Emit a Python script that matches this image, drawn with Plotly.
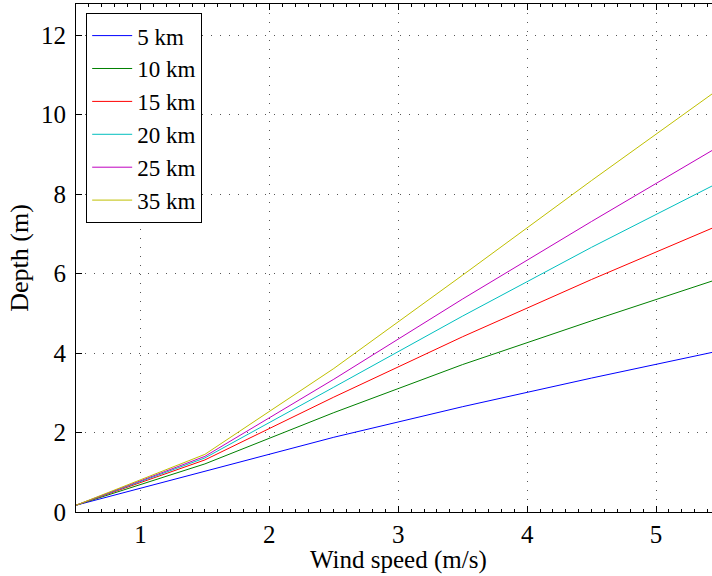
import plotly.graph_objects as go

wind_speed = [0.5, 1.5, 2.5, 3.5, 4.5, 5.5]
depth_5km = [0.17, 1.02, 1.88, 2.65, 3.37, 4.06]
depth_10km = [0.17, 1.21, 2.50, 3.71, 4.81, 5.88]
depth_15km = [0.17, 1.31, 2.89, 4.41, 5.85, 7.23]
depth_20km = [0.17, 1.36, 3.14, 4.93, 6.66, 8.31]
depth_25km = [0.17, 1.40, 3.34, 5.36, 7.31, 9.22]
depth_35km = [0.17, 1.45, 3.61, 5.96, 8.34, 10.67]

series_names = ["5 km", "10 km", "15 km", "20 km", "25 km", "35 km"]
series_values = [depth_5km, depth_10km, depth_15km, depth_20km, depth_25km, depth_35km]
colors = ["#0000ff", "#008000", "#ff0000", "#00bfbf", "#bf00bf", "#bfbf00"]

FONT = "Liberation Serif, Times New Roman, serif"

fig = go.Figure()
for name, vals, c in zip(series_names, series_values, colors):
    fig.add_trace(go.Scatter(x=wind_speed, y=vals, mode="lines", name=name,
                             line=dict(color=c, width=1)))

fig.update_layout(
    width=712, height=576,
    margin=dict(l=76, r=0, t=4, b=64),
    paper_bgcolor="white", plot_bgcolor="white",
    font=dict(family=FONT, size=24, color="black"),
    showlegend=True,
    legend=dict(x=0.016, y=0.982, xanchor="left", yanchor="top",
                bgcolor="white", bordercolor="black", borderwidth=1,
                font=dict(family=FONT, size=23, color="black"),
                tracegroupgap=0, itemwidth=40),
)

fig.update_xaxes(
    range=[0.5, 5.434], tickvals=[1, 2, 3, 4, 5],
    showline=True, linecolor="black", linewidth=1, mirror="ticks",
    ticks="inside", ticklen=6, tickcolor="black",
    showgrid=True, gridcolor="#555555", gridwidth=1, griddash="1px,8px",
    zeroline=False,
    minor=dict(ticks="inside", dtick=0.1, ticklen=3, tickcolor="black", showgrid=False),
    tickfont=dict(family=FONT, size=25),
    ticklabelstandoff=0,
)
fig.update_yaxes(
    range=[0, 12.78], tickvals=[0, 2, 4, 6, 8, 10, 12],
    showline=True, linecolor="black", linewidth=1, mirror=False,
    ticks="inside", ticklen=6, tickcolor="black",
    showgrid=True, gridcolor="#555555", gridwidth=1, griddash="1px,8px",
    zeroline=False,
    tickfont=dict(family=FONT, size=25),
    ticklabelstandoff=4,
    title=dict(text="Depth (m)", font=dict(family=FONT, size=26), standoff=4),
)

fig.add_annotation(text="Wind speed (m/s)", x=3.0, xref="x", y=0, yref="paper",
                   yanchor="top", yshift=-32, showarrow=False,
                   font=dict(family=FONT, size=25, color="black"))

fig.write_html("out.html")
